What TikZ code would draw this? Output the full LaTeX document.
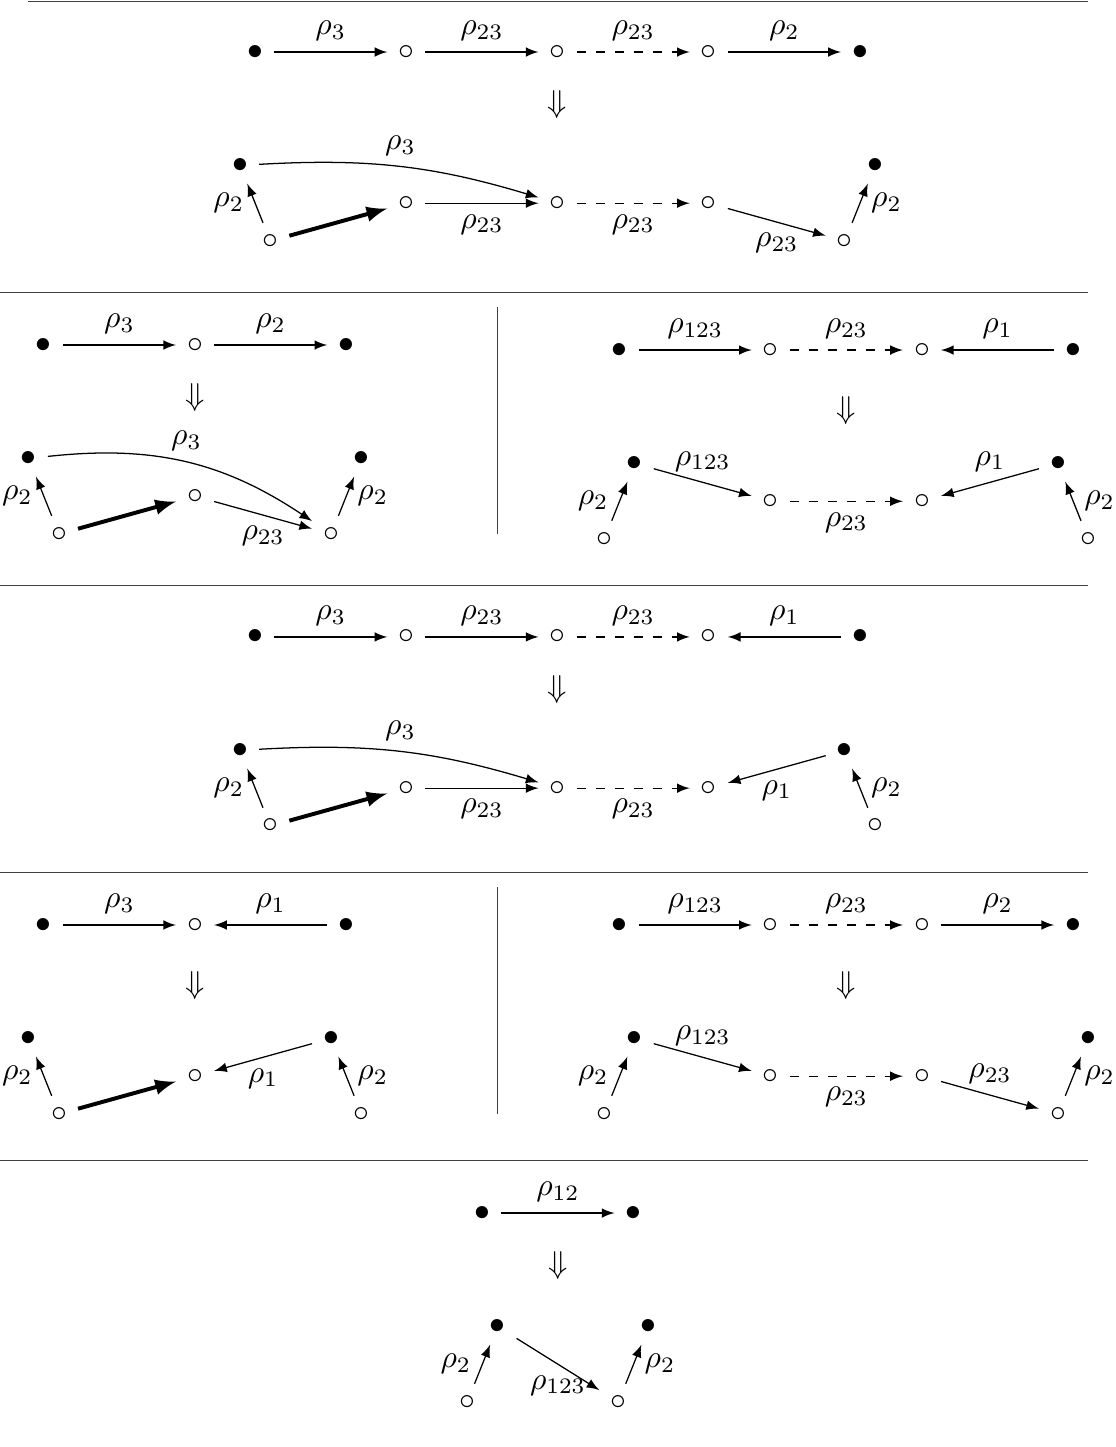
\documentclass[tikz,border=0pt]{standalone}
\usepackage{xcolor}

\begin{document}
\begin{tikzpicture}[x=0.42cm,y=0.42cm]

% ---------- common style ----------
\tikzstyle{gen}=[-latex]
\tikzstyle{dgen}=[-latex,dashed]
\tikzstyle{big}=[-latex,line width=1.25pt]
\tikzstyle{rule}=[line width=0.3pt,black!75]

\useasboundingbox (0,0) rectangle (29.5,-38.28);

% horizontal rules between the cases
\draw[rule] (0.74,-0.03) -- (28.78,-0.03);
\draw[rule] (0,-7.75) -- (28.78,-7.75);
\draw[rule] (0,-15.50) -- (28.78,-15.50);
\draw[rule] (0,-23.07) -- (28.78,-23.07);
\draw[rule] (0,-30.69) -- (28.78,-30.69);

% ================== Case A ==================
\begin{scope}[shift={(14.75,-1.376)}]
  \node (At1) at (-8,0) {$\bullet$};
  \node (At2) at (-4,0) {$\circ$};
  \node (At3) at ( 0,0) {$\circ$};
  \node (At4) at ( 4,0) {$\circ$};
  \node (At5) at ( 8,0) {$\bullet$};
  \draw[gen]  (At1) -- node[above] {$\rho_3$} (At2);
  \draw[gen]  (At2) -- node[above] {$\rho_{23}$} (At3);
  \draw[dgen] (At3) -- node[above] {$\rho_{23}$} (At4);
  \draw[gen]  (At4) -- node[above] {$\rho_2$} (At5);

  \node (Adn) at (0,-1.4) {$\Downarrow$};

  \node (Ab1) at (-8.4,-3) {$\bullet$};
  \node (Ab0) at (-7.6,-5) {$\circ$};
  \node (Ab2) at (-4,-4) {$\circ$};
  \node (Ab3) at ( 0,-4) {$\circ$};
  \node (Ab4) at ( 4,-4) {$\circ$};
  \node (Ab5) at ( 7.6,-5) {$\circ$};
  \node (Ab6) at ( 8.4,-3) {$\bullet$};
  \draw[gen]  (Ab0) -- node[left] {$\rho_2$} (Ab1);
  \draw[big]  (Ab0) -- (Ab2);
  \draw[gen]  (Ab2) -- node[below] {$\rho_{23}$} (Ab3);
  \draw[gen]  (Ab1) to[bend left=10] node[above] {$\rho_3$} (Ab3);
  \draw[dgen] (Ab3) -- node[below] {$\rho_{23}$} (Ab4);
  \draw[gen]  (Ab4) -- node[below] {$\rho_{23}$} (Ab5);
  \draw[gen]  (Ab5) -- node[right] {$\rho_2$} (Ab6);
\end{scope}

% ================== Case B, left ==================
\begin{scope}[shift={(5.16,-9.127)}]
  \node (BLt1) at (-4,0) {$\bullet$};
  \node (BLt2) at ( 0,0) {$\circ$};
  \node (BLt3) at ( 4,0) {$\bullet$};
  \draw[gen] (BLt1) -- node[above] {$\rho_3$} (BLt2);
  \draw[gen] (BLt2) -- node[above] {$\rho_2$} (BLt3);

  \node (BLdn) at (0,-1.4) {$\Downarrow$};

  \node (BLb1) at (-4.4,-3) {$\bullet$};
  \node (BLb0) at (-3.6,-5) {$\circ$};
  \node (BLb2) at ( 0,-4) {$\circ$};
  \node (BLb3) at ( 3.6,-5) {$\circ$};
  \node (BLb4) at ( 4.4,-3) {$\bullet$};
  \draw[gen] (BLb0) -- node[left] {$\rho_2$} (BLb1);
  \draw[big] (BLb0) -- (BLb2);
  \draw[gen] (BLb2) -- node[below] {$\rho_{23}$} (BLb3);
  \draw[gen] (BLb1) to[bend left=20] node[above] {$\rho_3$} (BLb3);
  \draw[gen] (BLb3) -- node[right] {$\rho_2$} (BLb4);

  % separator
  \draw[rule] (8,1) -- (8,-5);
\end{scope}

% ================== Case B, right ==================
\begin{scope}[shift={(22.39,-9.26)}]
  \node (BRt1) at (-6,0) {$\bullet$};
  \node (BRt2) at (-2,0) {$\circ$};
  \node (BRt3) at ( 2,0) {$\circ$};
  \node (BRt4) at ( 6,0) {$\bullet$};
  \draw[gen]  (BRt1) -- node[above] {$\rho_{123}$} (BRt2);
  \draw[dgen] (BRt2) -- node[above] {$\rho_{23}$} (BRt3);
  \draw[gen]  (BRt4) -- node[above] {$\rho_1$} (BRt3);

  \node (BRdn) at (0,-1.6) {$\Downarrow$};

  \node (BRb0) at (-6.4,-5) {$\circ$};
  \node (BRb1) at (-5.6,-3) {$\bullet$};
  \node (BRb2) at (-2,-4) {$\circ$};
  \node (BRb3) at ( 2,-4) {$\circ$};
  \node (BRb4) at ( 5.6,-3) {$\bullet$};
  \node (BRb5) at ( 6.4,-5) {$\circ$};
  \draw[gen]  (BRb0) -- node[left] {$\rho_2$} (BRb1);
  \draw[gen]  (BRb1) -- node[above] {$\rho_{123}$} (BRb2);
  \draw[dgen] (BRb2) -- node[below] {$\rho_{23}$} (BRb3);
  \draw[gen]  (BRb4) -- node[above] {$\rho_1$} (BRb3);
  \draw[gen]  (BRb5) -- node[right] {$\rho_2$} (BRb4);
\end{scope}

% ================== Case C ==================
\begin{scope}[shift={(14.75,-16.85)}]
  \node (Ct1) at (-8,0) {$\bullet$};
  \node (Ct2) at (-4,0) {$\circ$};
  \node (Ct3) at ( 0,0) {$\circ$};
  \node (Ct4) at ( 4,0) {$\circ$};
  \node (Ct5) at ( 8,0) {$\bullet$};
  \draw[gen]  (Ct1) -- node[above] {$\rho_3$} (Ct2);
  \draw[gen]  (Ct2) -- node[above] {$\rho_{23}$} (Ct3);
  \draw[dgen] (Ct3) -- node[above] {$\rho_{23}$} (Ct4);
  \draw[gen]  (Ct5) -- node[above] {$\rho_1$} (Ct4);

  \node (Cdn) at (0,-1.4) {$\Downarrow$};

  \node (Cb1) at (-8.4,-3) {$\bullet$};
  \node (Cb0) at (-7.6,-5) {$\circ$};
  \node (Cb2) at (-4,-4) {$\circ$};
  \node (Cb3) at ( 0,-4) {$\circ$};
  \node (Cb4) at ( 4,-4) {$\circ$};
  \node (Cb5) at ( 7.6,-3) {$\bullet$};
  \node (Cb6) at ( 8.4,-5) {$\circ$};
  \draw[gen]  (Cb0) -- node[left] {$\rho_2$} (Cb1);
  \draw[big]  (Cb0) -- (Cb2);
  \draw[gen]  (Cb2) -- node[below] {$\rho_{23}$} (Cb3);
  \draw[gen]  (Cb1) to[bend left=10] node[above] {$\rho_3$} (Cb3);
  \draw[dgen] (Cb3) -- node[below] {$\rho_{23}$} (Cb4);
  \draw[gen]  (Cb5) -- node[below] {$\rho_1$} (Cb4);
  \draw[gen]  (Cb6) -- node[right] {$\rho_2$} (Cb5);
\end{scope}

% ================== Case D, left ==================
\begin{scope}[shift={(5.16,-24.47)}]
  \node (DLt1) at (-4,0) {$\bullet$};
  \node (DLt2) at ( 0,0) {$\circ$};
  \node (DLt3) at ( 4,0) {$\bullet$};
  \draw[gen] (DLt1) -- node[above] {$\rho_3$} (DLt2);
  \draw[gen] (DLt3) -- node[above] {$\rho_1$} (DLt2);

  \node (DLdn) at (0,-1.6) {$\Downarrow$};

  \node (DLb1) at (-4.4,-3) {$\bullet$};
  \node (DLb0) at (-3.6,-5) {$\circ$};
  \node (DLb2) at ( 0,-4) {$\circ$};
  \node (DLb3) at ( 3.6,-3) {$\bullet$};
  \node (DLb4) at ( 4.4,-5) {$\circ$};
  \draw[gen] (DLb0) -- node[left] {$\rho_2$} (DLb1);
  \draw[big] (DLb0) -- (DLb2);
  \draw[gen] (DLb3) -- node[below] {$\rho_1$} (DLb2);
  \draw[gen] (DLb4) -- node[right] {$\rho_2$} (DLb3);

  % separator
  \draw[rule] (8,1) -- (8,-5);
\end{scope}

% ================== Case D, right ==================
\begin{scope}[shift={(22.39,-24.47)}]
  \node (DRt1) at (-6,0) {$\bullet$};
  \node (DRt2) at (-2,0) {$\circ$};
  \node (DRt3) at ( 2,0) {$\circ$};
  \node (DRt4) at ( 6,0) {$\bullet$};
  \draw[gen]  (DRt1) -- node[above] {$\rho_{123}$} (DRt2);
  \draw[dgen] (DRt2) -- node[above] {$\rho_{23}$} (DRt3);
  \draw[gen]  (DRt3) -- node[above] {$\rho_2$} (DRt4);

  \node (DRdn) at (0,-1.6) {$\Downarrow$};

  \node (DRb0) at (-6.4,-5) {$\circ$};
  \node (DRb1) at (-5.6,-3) {$\bullet$};
  \node (DRb2) at (-2,-4) {$\circ$};
  \node (DRb3) at ( 2,-4) {$\circ$};
  \node (DRb4) at ( 5.6,-5) {$\circ$};
  \node (DRb5) at ( 6.4,-3) {$\bullet$};
  \draw[gen]  (DRb0) -- node[left] {$\rho_2$} (DRb1);
  \draw[gen]  (DRb1) -- node[above] {$\rho_{123}$} (DRb2);
  \draw[dgen] (DRb2) -- node[below] {$\rho_{23}$} (DRb3);
  \draw[gen]  (DRb3) -- node[above] {$\rho_{23}$} (DRb4);
  \draw[gen]  (DRb4) -- node[right] {$\rho_2$} (DRb5);
\end{scope}

% ================== Case E ==================
\begin{scope}[shift={(14.76,-32.09)}]
  \node (Et1) at (-2,0) {$\bullet$};
  \node (Et2) at ( 2,0) {$\bullet$};
  \draw[gen] (Et1) -- node[above] {$\rho_{12}$} (Et2);

  \node (Edn) at (0,-1.4) {$\Downarrow$};

  \node (Eb0) at (-2.4,-5) {$\circ$};
  \node (Eb1) at (-1.6,-3) {$\bullet$};
  \node (Eb2) at ( 1.6,-5) {$\circ$};
  \node (Eb3) at ( 2.4,-3) {$\bullet$};
  \draw[gen] (Eb0) -- node[left] {$\rho_2$} (Eb1);
  \draw[gen] (Eb1) -- node[below] {$\rho_{123}$} (Eb2);
  \draw[gen] (Eb2) -- node[right] {$\rho_2$} (Eb3);
\end{scope}

\end{tikzpicture}
\end{document}
